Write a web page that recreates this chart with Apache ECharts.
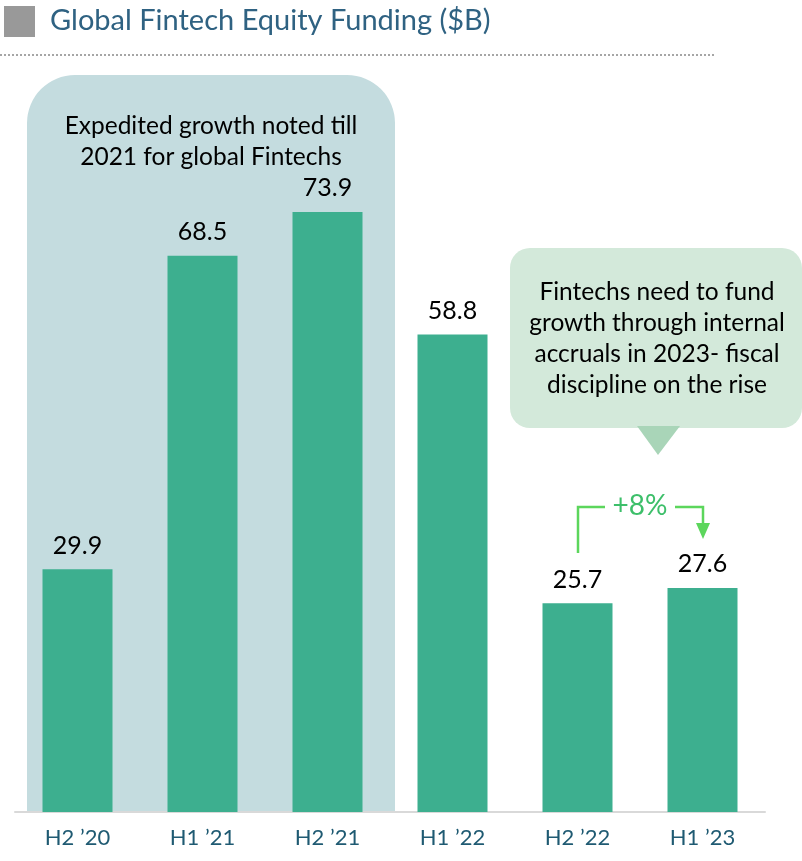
<!DOCTYPE html>
<html><head><meta charset="utf-8">
<script src="https://cdn.jsdelivr.net/npm/echarts@6/dist/echarts.min.js"></script>
<style>html,body{margin:0;padding:0;background:#fff}#c{width:802px;height:861px}</style>
</head><body><div id="c"></div>
<script>
const categories = ["H2 \u201920", "H1 \u201921", "H2 \u201921", "H1 \u201922", "H2 \u201922", "H1 \u201923"];
const values = [29.9, 68.5, 73.9, 58.8, 25.7, 27.6];
const titleText = "Global Fintech Equity Funding ($B)";
const leftNote = "Expedited growth noted till\n2021 for global Fintechs";
const rightNote = "Fintechs need to fund\ngrowth through internal\naccruals in 2023- fiscal\ndiscipline on the rise";
const growthLabel = "+8%";

const FONT = "Lato, 'Open Sans', sans-serif";
const chart = echarts.init(document.getElementById('c'), null, {renderer: 'canvas'});
const GREEN = '#5cd65c';
chart.setOption({
  animation: false,
  grid: {left: 15, width: 750, top: 0, bottom: 49, containLabel: false},
  xAxis: {
    type: 'category', data: categories,
    axisLine: {show: true, lineStyle: {color: '#d9d9d9', width: 2}},
    axisTick: {show: false},
    axisLabel: {color: '#1f5a72', fontSize: 22, fontFamily: FONT, margin: 15}
  },
  yAxis: {type: 'value', min: 0, max: 100, show: false, splitLine: {show: false}},
  series: [{
    type: 'bar', data: values, barWidth: 70, z: 5,
    itemStyle: {color: '#3daf8f'},
    label: {show: true, position: 'top', distance: 11, color: '#000', fontSize: 25, fontFamily: FONT,
      formatter: p => p.value.toFixed(1)}
  }],
  graphic: [
    {type: 'rect', z: -10, shape: {x: 4, y: 6, width: 31, height: 31}, style: {fill: '#999999'}},
    {type: 'text', z: 10, style: {x: 50, y: 21, text: titleText, fill: '#2f6282', fontSize: 29, fontFamily: FONT, textVerticalAlign: 'middle'}},
    {type: 'line', z: 10, shape: {x1: 0, y1: 55, x2: 715, y2: 55}, style: {stroke: '#a6a6a6', lineWidth: 2, lineDash: [2, 2]}},
    {type: 'rect', z: -10, shape: {x: 27, y: 75, width: 368, height: 737, r: [48, 48, 0, 0]}, style: {fill: '#c4dcdf'}},
    {type: 'text', z: 10, style: {x: 211, y: 142, text: leftNote, fill: '#000', fontSize: 24.5, lineHeight: 31, fontFamily: FONT, align: 'center', verticalAlign: 'middle'}},
    {type: 'rect', z: 10, shape: {x: 510, y: 248, width: 292, height: 180, r: 20}, style: {fill: '#d3e9da'}},
    {type: 'polygon', z: 10, shape: {points: [[637, 426], [680, 426], [658, 455]]}, style: {fill: '#a9d5b8'}},
    {type: 'text', z: 11, style: {x: 657, y: 339, text: rightNote, fill: '#000', fontSize: 24.5, lineHeight: 31, fontFamily: FONT, align: 'center', verticalAlign: 'middle'}},
    {type: 'polyline', z: 10, shape: {points: [[578, 553], [578, 507], [605, 507]]}, style: {stroke: GREEN, lineWidth: 2.5, fill: null}},
    {type: 'polyline', z: 10, shape: {points: [[675, 507], [703, 507], [703, 526]]}, style: {stroke: GREEN, lineWidth: 2.5, fill: null}},
    {type: 'polygon', z: 10, shape: {points: [[696, 523], [710, 523], [703, 539]]}, style: {fill: GREEN}},
    {type: 'text', z: 10, style: {x: 640, y: 506, text: growthLabel, fill: '#3dbf6a', fontSize: 28, fontFamily: FONT, align: 'center', verticalAlign: 'middle'}}
  ]
});
</script></body></html>
